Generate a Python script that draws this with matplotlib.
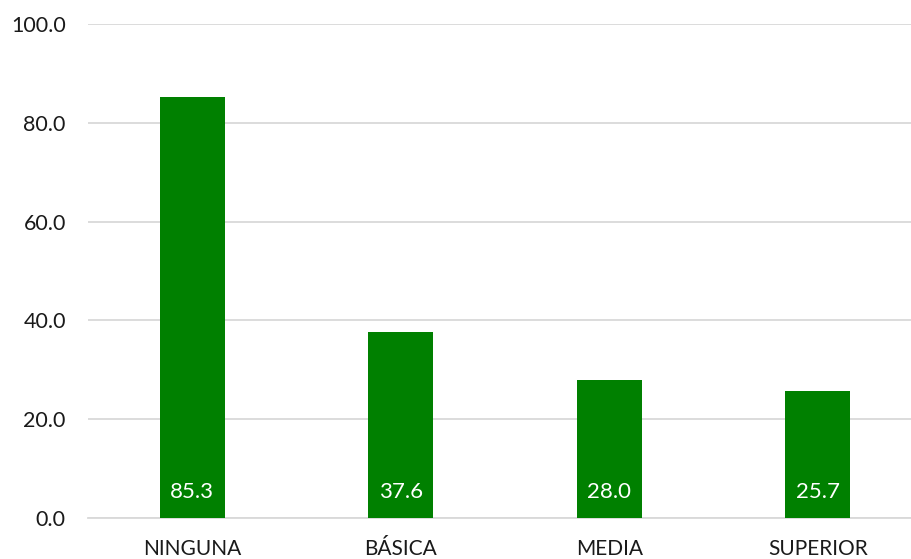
import matplotlib
matplotlib.use("Agg")
import matplotlib.pyplot as plt

categories = ["NINGUNA", "BÁSICA", "MEDIA", "SUPERIOR"]
values = [85.3, 37.6, 28.0, 25.7]
yticks = [0, 20, 40, 60, 80, 100]

plt.rcParams['font.family'] = ['Lato', 'DejaVu Sans']

fig = plt.figure(figsize=(9.12, 5.59), dpi=100)
ax = fig.add_axes([88/912, 41/559, 834/912, 494/559])
x = list(range(len(categories)))
bars = ax.bar(x, values, width=0.31, color="#008000", zorder=3)
ax.set_xlim(-0.5, 3.5)
ax.set_ylim(0, 100)
ax.set_yticks(yticks)
ax.set_yticklabels([f"{v:.1f}" for v in yticks], fontsize=15.5, color="#1a1a1a")
ax.set_xticks(x)
ax.set_xticklabels(categories, fontsize=15, color="#1a1a1a")
ax.tick_params(axis='both', length=0)
ax.tick_params(axis='y', pad=16)
ax.tick_params(axis='x', pad=15)
ax.grid(axis='y', color="#d9d9d9", linewidth=1.3, zorder=0)
for s in ["top", "right", "left"]:
    ax.spines[s].set_visible(False)
ax.spines["bottom"].set_color("#d9d9d9")
ax.spines["bottom"].set_linewidth(1.3)
for xi, v in zip(x, values):
    ax.text(xi, 5.3, f"{v:.1f}", ha="center", va="center", color="white", fontsize=16, zorder=4)
fig.savefig("out.png", dpi=100)
